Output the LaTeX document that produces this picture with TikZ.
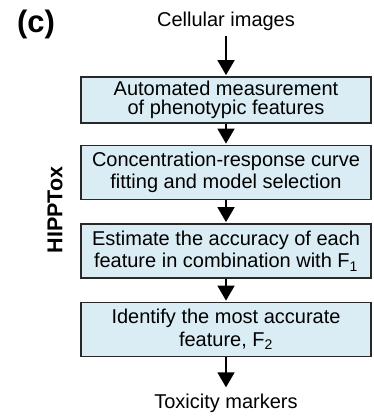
\documentclass[tikz,border=0pt]{standalone}
\usepackage{fontspec}
\setmainfont{Liberation Sans}
\usetikzlibrary{arrows.meta}
\definecolor{boxfill}{RGB}{218,237,245}
\definecolor{boxline}{RGB}{40,40,40}
\begin{document}
\begin{tikzpicture}[x=1pt,y=-1pt,
  stepbox/.style={draw=boxline, line width=1.8pt, fill=boxfill,
    minimum width=290pt, minimum height=54pt, inner sep=0pt,
    align=center, font=\fontsize{20}{22.5}\selectfont},
  label/.style={inner xsep=0pt, inner ysep=5pt, font=\fontsize{20}{22.5}\selectfont},
  flow/.style={draw=black, line width=1.8pt,
    -{Triangle[width=17pt,length=15pt]}, shorten >=1pt}]
  \useasboundingbox (0,0) rectangle (373,417);

  \node[font=\fontsize{31}{33}\bfseries] (tag) at (36,24) {(c)};
  \node[label, anchor=base] (cell) at (226,27) {Cellular images};

  \node[stepbox, minimum height=46pt, font=\fontsize{20}{19.5}\selectfont]
    (b1) at (226,100) {Automated measurement\\of phenotypic features};
  \node[stepbox] (b2) at (226,172.5) {Concentration-response curve\\fitting and model selection};
  \node[stepbox] (b3) at (226,251) {Estimate the accuracy of each\\feature in combination with F\textsubscript{1}};
  \node[stepbox] (b4) at (226,329.5) {Identify the most accurate\\feature, F\textsubscript{2}};

  \node[label, anchor=base] (tox) at (226,408) {Toxicity markers};

  \node[rotate=90, font=\fontsize{21.5}{23}\bfseries] (hipp) at (55,210) {HIPPTox};

  \draw[flow] (cell) -- (b1);
  \draw[flow] (b1) -- (b2);
  \draw[flow] (b2) -- (b3);
  \draw[flow] (b3) -- (b4);
  \draw[flow] (b4) -- (tox);
\end{tikzpicture}
\end{document}
